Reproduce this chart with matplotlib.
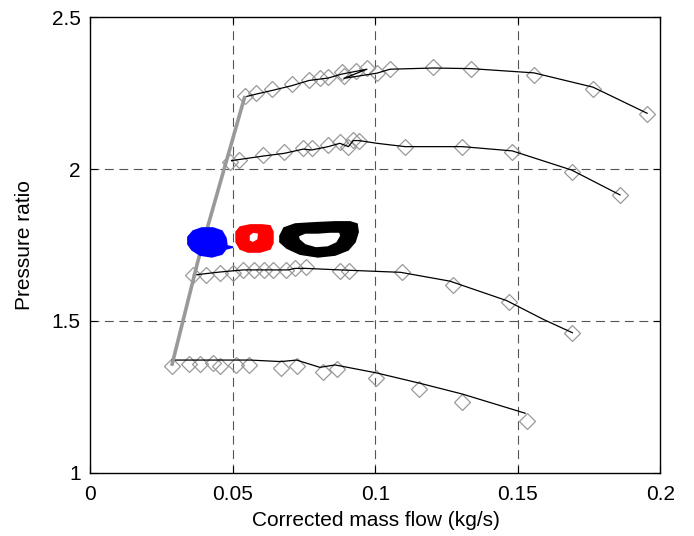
import matplotlib
matplotlib.use("Agg")
import matplotlib.pyplot as plt
from matplotlib.path import Path
from matplotlib.patches import PathPatch
import numpy as np

plt.rcParams['font.family'] = ['Liberation Sans', 'DejaVu Sans']

# speed line 1 (highest pressure ratio): measured points and fitted curve
pts1_x = [0.0542, 0.0581, 0.0637, 0.0707, 0.0767, 0.0805, 0.0834, 0.0882, 0.0889,
          0.0932, 0.0970, 0.1005, 0.1051, 0.1202, 0.1335, 0.1556, 0.1763, 0.1953]
pts1_y = [2.241, 2.250, 2.263, 2.280, 2.294, 2.299, 2.302, 2.321, 2.307,
          2.324, 2.332, 2.318, 2.329, 2.335, 2.329, 2.310, 2.264, 2.181]
crv1_x = [0.0542, 0.0581, 0.0637, 0.0707, 0.0767, 0.0834, 0.0882, 0.0970, 0.0889,
          0.1005, 0.1051, 0.1202, 0.1335, 0.1556, 0.1763, 0.1953]
crv1_y = [2.238, 2.247, 2.259, 2.275, 2.292, 2.300, 2.313, 2.329, 2.299,
          2.316, 2.329, 2.333, 2.331, 2.317, 2.270, 2.184]

# speed line 2
pts2_x = [0.0489, 0.0522, 0.0606, 0.0680, 0.0747, 0.0776, 0.0834, 0.0875, 0.0905,
          0.0920, 0.0942, 0.1104, 0.1305, 0.1480, 0.1688, 0.1858]
pts2_y = [2.024, 2.030, 2.046, 2.057, 2.069, 2.069, 2.079, 2.090, 2.074,
          2.096, 2.094, 2.074, 2.074, 2.057, 1.991, 1.915]
crv2_x = [0.0495, 0.0606, 0.0680, 0.0747, 0.0776, 0.0834, 0.0875, 0.0905, 0.0922,
          0.0942, 0.1005, 0.1104, 0.1305, 0.1480, 0.1688, 0.1858]
crv2_y = [2.028, 2.043, 2.052, 2.066, 2.063, 2.074, 2.085, 2.074, 2.094,
          2.094, 2.085, 2.074, 2.074, 2.060, 1.997, 1.915]

# speed line 3
pts3_x = [0.0361, 0.0405, 0.0454, 0.0499, 0.0536, 0.0575, 0.0609, 0.0641, 0.0686,
          0.0718, 0.0755, 0.0875, 0.0908, 0.1092, 0.1273, 0.1468, 0.1691]
pts3_y = [1.651, 1.651, 1.659, 1.659, 1.668, 1.668, 1.668, 1.668, 1.668,
          1.673, 1.677, 1.665, 1.665, 1.660, 1.618, 1.561, 1.459]
crv3_x = [0.0361, 0.0454, 0.0536, 0.0694, 0.0718, 0.0755, 0.0875, 0.1088,
          0.1261, 0.1460, 0.1589, 0.1691]
crv3_y = [1.651, 1.661, 1.668, 1.668, 1.673, 1.673, 1.668, 1.660,
          1.631, 1.567, 1.505, 1.461]

# speed line 4 (lowest)
pts4_x = [0.0285, 0.0347, 0.0384, 0.0429, 0.0454, 0.0511, 0.0557, 0.0668, 0.0723,
          0.0815, 0.0864, 0.1002, 0.1154, 0.1305, 0.1531]
pts4_y = [1.352, 1.358, 1.358, 1.362, 1.352, 1.355, 1.355, 1.344, 1.352,
          1.333, 1.341, 1.311, 1.275, 1.234, 1.170]
crv4_x = [0.0285, 0.0560, 0.0668, 0.0723, 0.0805, 0.0858, 0.1002, 0.1154, 0.1305, 0.1525]
crv4_y = [1.371, 1.371, 1.366, 1.371, 1.347, 1.355, 1.329, 1.295, 1.259, 1.196]

# surge line
surge_x = [0.0285, 0.0378, 0.0542]
surge_y = [1.352, 1.701, 2.241]

# limit cycles (outer edge / hole edge)
blue_x = [0.0342, 0.0360, 0.0391, 0.0430, 0.0461, 0.0475, 0.0479, 0.0500,
          0.0475, 0.0461, 0.0426, 0.0384, 0.0356, 0.0342]
blue_y = [1.776, 1.796, 1.806, 1.806, 1.796, 1.773, 1.747, 1.743,
          1.737, 1.720, 1.711, 1.717, 1.734, 1.753]
red_x = [0.0511, 0.0525, 0.0560, 0.0602, 0.0630, 0.0640, 0.0640, 0.0630,
         0.0595, 0.0553, 0.0525, 0.0511]
red_y = [1.793, 1.809, 1.816, 1.816, 1.813, 1.793, 1.757, 1.737,
         1.727, 1.727, 1.737, 1.760]
red_hole_x = [0.0556, 0.0570, 0.0591, 0.0588, 0.0570, 0.0556]
red_hole_y = [1.783, 1.793, 1.790, 1.767, 1.757, 1.763]
black_x = [0.0665, 0.0679, 0.0718, 0.0788, 0.0858, 0.0911, 0.0935, 0.0939,
           0.0928, 0.0904, 0.0858, 0.0798, 0.0735, 0.0689, 0.0665]
black_y = [1.780, 1.806, 1.819, 1.823, 1.826, 1.826, 1.819, 1.793,
           1.760, 1.734, 1.717, 1.711, 1.720, 1.740, 1.760]
black_hole_x = [0.0728, 0.0753, 0.0798, 0.0840, 0.0875, 0.0879, 0.0865,
                0.0833, 0.0791, 0.0753, 0.0732]
black_hole_y = [1.780, 1.790, 1.790, 1.793, 1.793, 1.780, 1.757,
                1.743, 1.740, 1.750, 1.767]

xticks = [0, 0.05, 0.1, 0.15, 0.2]
xticklabels = ['0', '0.05', '0.1', '0.15', '0.2']
yticks = [1, 1.5, 2, 2.5]
yticklabels = ['1', '1.5', '2', '2.5']


def ring(ax, ox, oy, color, hx=None, hy=None):
    # filled blob, optionally with a hole
    verts = list(zip(ox, oy)) + [(ox[0], oy[0])]
    codes = [Path.MOVETO] + [Path.LINETO] * (len(ox) - 1) + [Path.CLOSEPOLY]
    if hx is not None:
        inner = list(zip(hx, hy))[::-1]
        verts += inner + [inner[0]]
        codes += [Path.MOVETO] + [Path.LINETO] * (len(hx) - 1) + [Path.CLOSEPOLY]
    patch = PathPatch(Path(verts, codes), facecolor=color, edgecolor=color,
                      lw=1.2, zorder=4)
    ax.add_patch(patch)


fig = plt.figure(figsize=(6.94, 5.36), dpi=100)
ax = fig.add_axes([0.1304, 0.1181, 0.8213, 0.8496])

grid_kw = dict(color='#555555', lw=0.8, linestyle=(0, (8, 5)), zorder=0)
for gx in xticks[1:-1]:
    ax.axvline(gx, **grid_kw)
for gy in yticks[1:-1]:
    ax.axhline(gy, **grid_kw)

gray = '#999999'
for px, py, cx, cy in [(pts1_x, pts1_y, crv1_x, crv1_y),
                       (pts2_x, pts2_y, crv2_x, crv2_y),
                       (pts3_x, pts3_y, crv3_x, crv3_y),
                       (pts4_x, pts4_y, crv4_x, crv4_y)]:
    ax.plot(px, py, linestyle='none', marker='D', ms=7.9, mfc='none',
            mec=gray, mew=0.9, zorder=2)
    ax.plot(cx, cy, color='black', lw=0.9, zorder=3)

ax.plot(surge_x, surge_y, color=gray, lw=2.6, zorder=3, solid_capstyle='butt')

ring(ax, blue_x, blue_y, '#0000ff')
ring(ax, red_x, red_y, '#ff0000', red_hole_x, red_hole_y)
ring(ax, black_x, black_y, '#000000', black_hole_x, black_hole_y)

ax.set_xlim(0, 0.2)
ax.set_ylim(1, 2.5)
ax.set_xticks(xticks)
ax.set_xticklabels(xticklabels)
ax.set_yticks(yticks)
ax.set_yticklabels(yticklabels)
ax.tick_params(direction='in', length=5, width=0.8, top=True, right=True,
               labelsize=15)
ax.tick_params(axis='x', pad=9)
ax.tick_params(axis='y', pad=7)
for s in ax.spines.values():
    s.set_linewidth(1.0)

ax.set_xlabel('Corrected mass flow (kg/s)', fontsize=15, labelpad=5)
ax.set_ylabel('Pressure ratio', fontsize=15, labelpad=13)

fig.savefig('out.png', dpi=100)
